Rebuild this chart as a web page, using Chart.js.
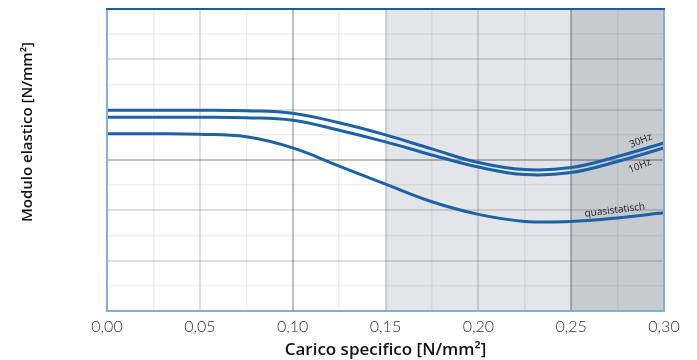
<!DOCTYPE html>
<html><head><meta charset="utf-8">
<script src="https://cdn.jsdelivr.net/npm/chart.js@4/dist/chart.umd.min.js"></script>
<style>html,body{margin:0;padding:0;background:#fff}#w{width:697px;height:360px}</style>
</head><body><div id="w"><canvas id="c" width="697" height="360"></canvas></div>
<script>
const xValues = [0, 0.025, 0.05, 0.075, 0.1, 0.125, 0.15, 0.175, 0.2, 0.225, 0.25, 0.275, 0.3];
const hz30 = [3.99, 3.99, 3.99, 3.98, 3.93, 3.74, 3.50, 3.22, 2.95, 2.81, 2.85, 3.07, 3.34];
const hz10 = [3.85, 3.85, 3.85, 3.84, 3.79, 3.59, 3.36, 3.10, 2.86, 2.71, 2.75, 2.97, 3.24];
const quasi = [3.52, 3.52, 3.51, 3.46, 3.24, 2.88, 2.52, 2.17, 1.92, 1.78, 1.78, 1.85, 1.95];
const seriesNames = ['30Hz', '10Hz', 'quasistatisch'];
const xTickLabels = ['0,00', '0,05', '0,10', '0,15', '0,20', '0,25', '0,30'];
const xTitle = 'Carico specifico [N/mm²]';
const yTitle = 'Modulo elastico [N/mm²]';
const zoneLight = [0.15, 0.25];
const zoneDark = [0.25, 0.30];

const toPts = arr => arr.map((v, i) => ({x: xValues[i], y: v}));
const lineColor = '#1c62a6';

const bgPlugin = {
  id: 'bg',
  beforeDraw(chart) {
    const {ctx, chartArea: a, scales: {x}} = chart;
    ctx.save();
    ctx.fillStyle = '#e3e5e9';
    ctx.fillRect(x.getPixelForValue(zoneLight[0]), a.top, x.getPixelForValue(zoneLight[1]) - x.getPixelForValue(zoneLight[0]), a.bottom - a.top);
    ctx.fillStyle = '#c7cbd0';
    ctx.fillRect(x.getPixelForValue(zoneDark[0]), a.top, x.getPixelForValue(zoneDark[1]) - x.getPixelForValue(zoneDark[0]), a.bottom - a.top);
    ctx.restore();
  },
  afterDraw(chart) {
    const {ctx, chartArea: a, scales: {x, y}} = chart;
    ctx.save();
    ctx.strokeStyle = '#86aed4';
    ctx.lineWidth = 2;
    ctx.strokeRect(a.left, a.top, a.right - a.left, a.bottom - a.top);
    ctx.strokeStyle = '#1a5c9e';
    ctx.lineWidth = 2;
    ctx.beginPath(); ctx.moveTo(a.left - 1, a.top); ctx.lineTo(a.right + 1, a.top); ctx.stroke();
    ctx.fillStyle = '#222';
    ctx.font = '10px "Open Sans"';
    const lab = (t, xv, yv, ang) => {
      ctx.save();
      ctx.translate(x.getPixelForValue(xv), y.getPixelForValue(yv));
      ctx.rotate(ang * Math.PI / 180);
      ctx.textAlign = 'center'; ctx.textBaseline = 'middle';
      ctx.fillText(t, 0, 0);
      ctx.restore();
    };
    lab(seriesNames[0], 0.2875, 3.38, -22);
    lab(seriesNames[1], 0.287, 2.88, -22);
    lab(seriesNames[2], 0.2735, 2.0, -7);
    // y-axis title
    ctx.save();
    ctx.translate(28, 132);
    ctx.rotate(-Math.PI / 2);
    ctx.fillStyle = '#111';
    ctx.font = '600 15px "Open Sans"';
    ctx.textAlign = 'center'; ctx.textBaseline = 'middle';
    ctx.fillText(yTitle, 0, 0);
    ctx.restore();
    ctx.restore();
  }
};

const mkDs = (label, data) => ({
  label, data: toPts(data), borderColor: lineColor, borderWidth: 3,
  pointRadius: 0, fill: false, tension: 0.4
});

new Chart(document.getElementById('c'), {
  type: 'line',
  data: { datasets: [mkDs(seriesNames[0], hz30), mkDs(seriesNames[1], hz10), mkDs(seriesNames[2], quasi)] },
  options: {
    responsive: false, animation: false,
    layout: { padding: { top: 9, right: 33, left: 0, bottom: 0 } },
    plugins: { legend: { display: false }, tooltip: { enabled: false } },
    scales: {
      x: {
        type: 'linear', min: 0, max: 0.3,
        afterBuildTicks(s) { s.ticks = []; for (let i = 0; i <= 12; i++) s.ticks.push({value: i * 0.025}); },
        afterFit(s) { s.height = 49; },
        grid: {
          drawTicks: false,
          color: c => { const i = Math.round(c.tick.value / 0.025); if (i % 2) return 'rgba(0,0,0,0.06)'; if (i === 4 || i === 10) return 'rgba(0,0,0,0.25)'; return 'rgba(0,0,0,0.13)'; },
          lineWidth: c => (Math.round(c.tick.value / 0.025) % 2 ? 1.5 : 2)
        },
        border: { display: false },
        ticks: {
          padding: 6, color: '#333', font: { family: 'Lato', size: 16, weight: 300 },
          autoSkip: false, maxRotation: 0,
          callback: (v) => { const i = Math.round(v / 0.025); return i % 2 ? '' : xTickLabels[i / 2]; }
        },
        title: { display: true, text: xTitle, color: '#111', padding: { top: 0, bottom: 0 }, font: { family: 'Open Sans', size: 17, weight: 600 } }
      },
      y: {
        min: 0, max: 6,
        ticks: { stepSize: 0.5, display: false },
        afterFit(s) { s.width = 107; },
        grid: {
          drawTicks: false,
          color: c => { const v = c.tick.value; if (Math.abs(v - 3) < 1e-6) return 'rgba(0,0,0,0.25)'; if (Math.abs(v % 1) > 1e-6) return 'rgba(0,0,0,0.06)'; return 'rgba(0,0,0,0.13)'; },
          lineWidth: c => (Math.abs(c.tick.value % 1) > 1e-6 ? 1.5 : 2)
        },
        border: { display: false },
        title: { display: false }
      }
    }
  },
  plugins: [bgPlugin]
});
</script>
</body></html>
